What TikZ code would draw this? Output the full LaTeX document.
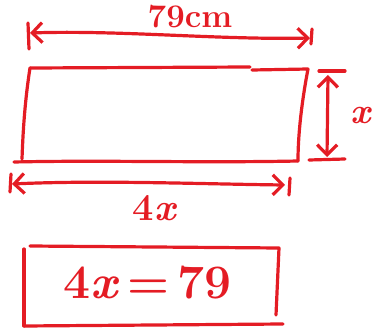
\documentclass[tikz,border=0pt]{standalone}
\usepackage{fontspec}
\usetikzlibrary{arrows.meta}
\definecolor{pen}{RGB}{228,28,36}
\begin{document}
\begin{tikzpicture}[x=1pt,y=-1pt,
  ink/.style={draw=pen,line width=3.2pt,line cap=round,line join=round},
  dim/.style={ink,{Straight Barb[length=10pt,width=20pt,line width=3.2pt]}-{Straight Barb[length=10pt,width=20pt,line width=3.2pt]}},
  lbl/.style={text=pen,inner sep=0pt}]
\useasboundingbox (0,0) rectangle (375,329);
% named points
\coordinate (tl) at (30,68);
\coordinate (tr) at (308,69);
\coordinate (br) at (298,161);
\coordinate (bl) at (14,162);
\coordinate (bl2) at (22,159);
% rectangle
\draw[ink] (tl) -- (250,67) (252,70) -- (tr) .. controls (303,95) and (298,130) .. (br);
\draw[ink] (tl) .. controls (25,100) and (23,130) .. (bl2);
\draw[ink] (bl) .. controls (100,160) and (200,163) .. (br);
% top dimension
\coordinate (ta) at (30,33);
\coordinate (tb) at (310,38);
\draw[ink] (28,23) -- (29,49);
\draw[ink] (312,29) -- (311,44);
\draw[dim] (ta) .. controls (120,30) and (220,40) .. (tb);
\node[lbl,font=\fontsize{33}{33}\selectfont\bfseries] (t79) at (190,17) {79cm};
% right dimension
\coordinate (ra) at (328,75);
\coordinate (rb) at (327,157);
\draw[ink] (319,71) -- (345,71);
\draw[ink] (309,160) -- (345,159);
\draw[dim] (ra) -- (rb);
\node[lbl,font=\fontsize{36}{36}\selectfont\bfseries] (rx) at (361,116) {\textit{x}};
% bottom dimension
\coordinate (ba) at (12,184);
\coordinate (bb) at (285,185);
\draw[ink] (11,174) -- (10,192);
\draw[ink] (290,178) -- (289,195);
\draw[dim] (ba) .. controls (100,180) and (200,184) .. (bb);
\node[lbl,font=\fontsize{38}{38}\selectfont\bfseries] (b4x) at (155,208) {4\textit{x}};
% answer box
\draw[ink] (30,246) -- (279,248) -- (276,315);
\draw[ink] (24,249) -- (24,326);
\draw[ink] (24,326) -- (283,324);
\node[lbl,font=\fontsize{48}{48}\selectfont\bfseries] (eq) at (148,283) {4\textit{x}\,=\,79};
\end{tikzpicture}
\end{document}
